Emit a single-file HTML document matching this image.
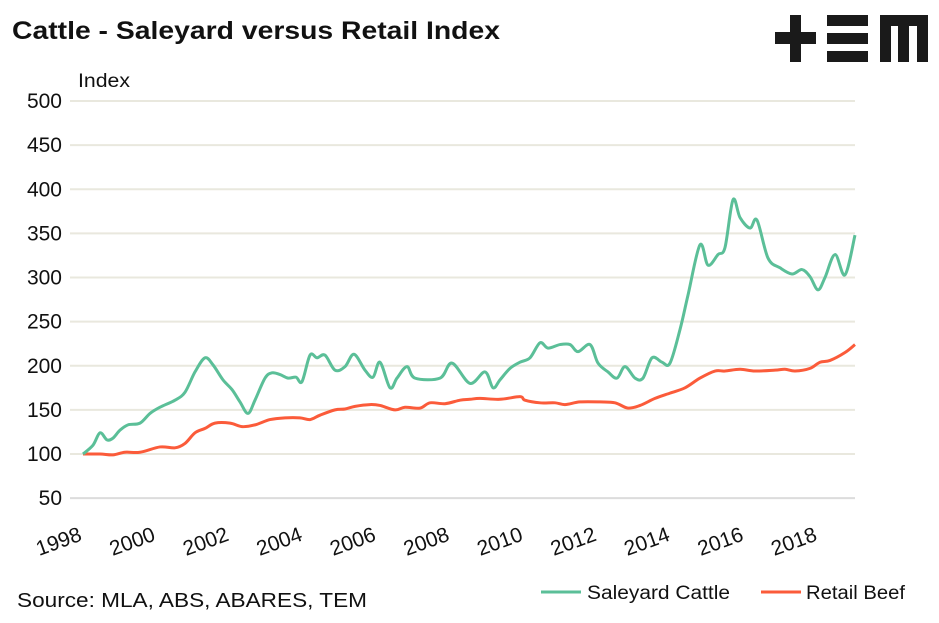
<!DOCTYPE html>
<html><head><meta charset="utf-8"><style>
body{margin:0;background:#fff;width:939px;height:618px;overflow:hidden;font-family:"Liberation Sans",sans-serif}
</style></head><body>
<svg id="chart" width="939" height="618" xmlns="http://www.w3.org/2000/svg" font-family="Liberation Sans, sans-serif">
<text x="12" y="39" font-size="25" font-weight="bold" fill="#111" textLength="488" lengthAdjust="spacingAndGlyphs">Cattle - Saleyard versus Retail Index</text>
<g fill="#1a1a1a">
<rect x="775" y="32" width="41" height="12"/><rect x="790" y="15" width="11" height="47"/>
<rect x="827" y="15" width="41" height="11"/><rect x="827" y="33" width="41" height="11"/><rect x="827" y="51" width="41" height="11"/>
<rect x="880" y="15" width="48" height="11"/><rect x="880" y="15" width="11" height="47"/><rect x="898" y="15" width="11" height="47"/><rect x="917" y="15" width="11" height="47"/>
</g>
<text x="78" y="87" font-size="19" fill="#111" textLength="52" lengthAdjust="spacingAndGlyphs">Index</text>
<g id="grid"></g><g id="yt"></g><g id="xt"></g><g id="lines"></g>
<text x="17" y="607" font-size="20" fill="#111" textLength="350" lengthAdjust="spacingAndGlyphs">Source: MLA, ABS, ABARES, TEM</text>
<g>
<line x1="541" y1="592" x2="581" y2="592" stroke="#5bbf98" stroke-width="3"/>
<text x="587" y="599" font-size="19" fill="#111" textLength="143" lengthAdjust="spacingAndGlyphs">Saleyard Cattle</text>
<line x1="761" y1="592" x2="801" y2="592" stroke="#fb5b3a" stroke-width="3"/>
<text x="806" y="599" font-size="19" fill="#111" textLength="99" lengthAdjust="spacingAndGlyphs">Retail Beef</text>
</g>
</svg>
<script>
const yTicks=[50,100,150,200,250,300,350,400,450,500];
const xTicks=[1998,2000,2002,2004,2006,2008,2010,2012,2014,2016,2018];
const saleX=[83,93,100,107,113,120,128,140,150,160,175,185,195,205,213,223,232,240,248,255,265,272,280,288,296,302,310,317,325,335,345,354,365,373,380,390,397,407,415,440,452,470,485,493,500,510,520,530,540,548,560,570,578,590,598,608,617,625,635,643,652,662,670,680,688,700,708,718,725,733,740,750,757,768,780,792,802,810,818,825,835,845,855];
const saleV=[100,110,124,116,118,127,133,135,146,153,161,170,193,209,201,184,173,159,146,161,186,192,190,186,187,182,212,209,212,195,199,213,195,187,204,175,186,199,186,186,203,180,193,175,184,197,204,209,226,220,224,224,216,224,203,193,186,199,186,186,209,204,203,241,280,337,314,326,334,388,368,356,365,322,311,304,309,301,286,300,326,303,348];
const retX=[83,100,113,125,140,160,175,185,195,205,215,230,242,255,270,285,300,310,320,335,345,355,370,380,395,405,420,430,445,460,470,480,500,520,525,540,555,565,580,600,615,628,640,655,670,685,700,715,725,740,755,775,785,795,810,820,830,845,855];
const retV=[100,100,99,102,102,108,107,112,124,129,135,135,131,133,139,141,141,139,144,150,151,154,156,155,150,153,152,158,157,161,162,163,162,165,161,158,158,156,159,159,158,152,155,163,169,175,186,194,194,196,194,195,196,194,197,204,206,215,224];
const toYear=x=>1998+(x-83)/36.76;
const sx=yr=>83+(yr-1998)*36.76;
const sy=v=>454-(v-100)*0.8825;
const NS='http://www.w3.org/2000/svg';
function mk(t,a,p){const e=document.createElementNS(NS,t);for(const k in a)e.setAttribute(k,a[k]);p.appendChild(e);return e;}
const grid=document.getElementById('grid'),yt=document.getElementById('yt'),xt=document.getElementById('xt'),ln=document.getElementById('lines');
yTicks.forEach(v=>{
 const l=mk('line',{x1:70,x2:855,y1:sy(v),y2:sy(v),stroke:v===50?'#dcdcdc':'#e9e8de','stroke-width':2},grid);
 
 
 const t=mk('text',{x:62,y:sy(v)+7,'text-anchor':'end','font-size':21,fill:'#111'},yt);t.textContent=v;
 
 
});
xTicks.forEach(yr=>{
 const x=sx(yr);
 const t=mk('text',{x:x,y:540,'text-anchor':'end','font-size':21,fill:'#111',transform:'rotate(-20 '+x+' 540)'},xt);t.textContent=yr;
 
 
});
function path(xs,vs){
 const p=xs.map((x,i)=>[sx(toYear(x)),sy(vs[i])]);
 let d='M'+p[0][0]+','+p[0][1];
 for(let i=0;i<p.length-1;i++){
  const p0=p[Math.max(0,i-1)],p1=p[i],p2=p[i+1],p3=p[Math.min(p.length-1,i+2)];
  const c1=[p1[0]+(p2[0]-p0[0])/6,p1[1]+(p2[1]-p0[1])/6],c2=[p2[0]-(p3[0]-p1[0])/6,p2[1]-(p3[1]-p1[1])/6];
  d+=' C'+c1+' '+c2+' '+p2;
 }
 return d;
}
const r=mk('path',{d:path(retX,retV),fill:'none',stroke:'#fb5b3a','stroke-width':3,'stroke-linejoin':'round'},ln);


const s=mk('path',{d:path(saleX,saleV),fill:'none',stroke:'#5bbf98','stroke-width':3,'stroke-linejoin':'round'},ln);


</script>
</body></html>
